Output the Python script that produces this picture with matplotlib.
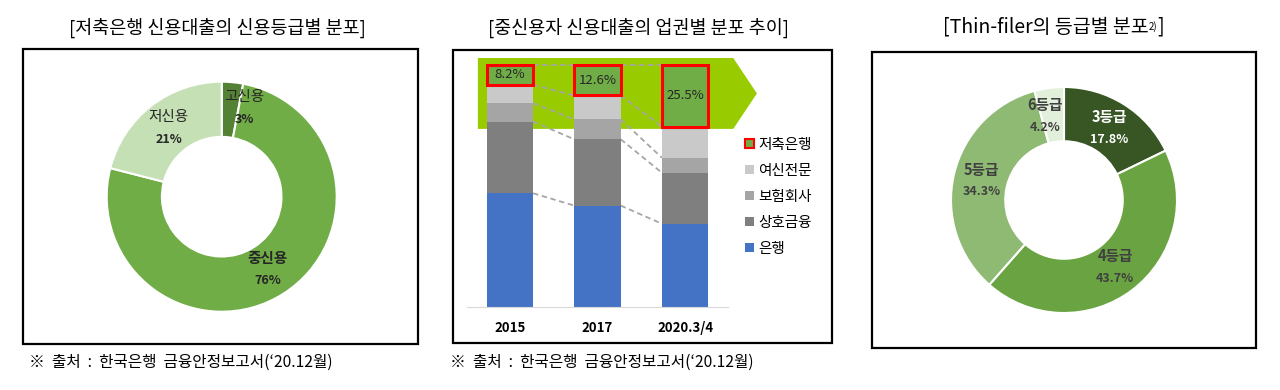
import matplotlib.pyplot as plt
from matplotlib.patches import Rectangle, Polygon, Patch
import numpy as np

W, H = 1280, 390

# 왼쪽: 저축은행 신용대출의 신용등급별 분포
credit_labels = ["고신용", "중신용", "저신용"]
credit_values = [3, 76, 21]
credit_colors = ["#548235", "#70ad47", "#c5e0b4"]

# 가운데: 중신용자 신용대출의 업권별 분포 추이 (%)
years = ["2015", "2017", "2020.3/4"]
bank = [47.0, 41.9, 34.4]
mutual = [29.6, 27.4, 21.1]
insurance = [7.6, 8.3, 6.2]
card = [7.6, 9.8, 12.8]
savings = [8.2, 12.6, 25.5]
sector_names = ["은행", "상호금융", "보험회사", "여신전문", "저축은행"]
sector_colors = ["#4472c4", "#7f7f7f", "#a5a5a5", "#c9c9c9", "#70ad47"]

# 오른쪽: Thin-filer의 등급별 분포
grade_labels = ["3등급", "4등급", "5등급", "6등급"]
grade_values = [17.8, 43.7, 34.3, 4.2]
grade_colors = ["#375623", "#6aa341", "#8fba74", "#e2efda"]
grade_text_colors = ["white", "#404040", "#404040", "#404040"]

SOURCE = "※  출처  :  한국은행  금융안정보고서(‘20.12월)"

plt.rcParams["font.family"] = ["Noto Sans CJK KR", "DejaVu Sans"]


def px_rect(x0, y0, x1, y1):
    # 픽셀 좌표(왼쪽 위 기준)를 figure 비율 좌표로 바꾼다.
    return [x0 / W, 1 - y1 / H, (x1 - x0) / W, (y1 - y0) / H]


def draw_frame(fig, x0, y0, x1, y1):
    fig.add_artist(Rectangle((x0 / W, 1 - y1 / H), (x1 - x0) / W, (y1 - y0) / H,
                             transform=fig.transFigure, fill=False,
                             edgecolor="black", linewidth=1.6))


def draw_donut(fig, cx, cy, r, values, labels, colors, text_colors, name_bold, nudges):
    ax = fig.add_axes(px_rect(cx - r, cy - r, cx + r, cy + r))
    wedges, _ = ax.pie(values, radius=1, startangle=90, counterclock=False,
                       colors=colors,
                       wedgeprops={"width": 0.48, "edgecolor": "white", "linewidth": 1.5})
    ax.set_xlim(-1, 1)
    ax.set_ylim(-1, 1)
    ax.axis("off")
    for i, w in enumerate(wedges):
        mid = np.deg2rad((w.theta1 + w.theta2) / 2)
        dx, dy = nudges.get(labels[i], (0, 0))
        x = 0.75 * np.cos(mid) + dx
        y = 0.75 * np.sin(mid) + dy
        value = values[i]
        pct = f"{value:.0f}%" if float(value).is_integer() else f"{value:.1f}%"
        ax.annotate(labels[i], (x, y), xytext=(0, 8), textcoords="offset points",
                    ha="center", va="center", fontsize=10.5, color=text_colors[i],
                    fontweight="bold" if name_bold[i] else "normal")
        ax.annotate(pct, (x, y), xytext=(0, -8), textcoords="offset points",
                    ha="center", va="center", fontsize=9, color=text_colors[i],
                    fontweight="bold")
    return ax


fig = plt.figure(figsize=(12.8, 3.9), dpi=100)

# ---- 왼쪽 도넛 ----
fig.text(217 / W, 1 - 28 / H, "[저축은행 신용대출의 신용등급별 분포]",
         ha="center", va="center", fontsize=13.3)
draw_frame(fig, 23, 49, 418, 344)
draw_donut(fig, 221.7, 196.7, 115, credit_values, credit_labels, credit_colors,
           ["#262626"] * 3, [False, True, False], {"고신용": (0.13, 0.02)})
fig.text(29 / W, 1 - 362 / H, SOURCE, ha="left", va="center", fontsize=11.3)

# ---- 가운데 누적 막대 ----
fig.text(638 / W, 1 - 28 / H, "[중신용자 신용대출의 업권별 분포 추이]",
         ha="center", va="center", fontsize=13.3)
draw_frame(fig, 453, 50, 832, 343)
fig.text(450 / W, 1 - 362 / H, SOURCE, ha="left", va="center", fontsize=11.3)

ax = fig.add_axes(px_rect(467, 50, 728, 307))
x = np.arange(len(years))
bar_w = 0.53
series = [bank, mutual, insurance, card, savings]
bottoms = np.zeros(len(years))
levels = [bottoms.copy()]
for name, vals, color in zip(sector_names, series, sector_colors):
    vals = np.array(vals)
    if name == "저축은행":
        ax.bar(x, vals, bar_w, bottom=bottoms, color=color, edgecolor="#ff0000",
               linewidth=2.2, zorder=3)
        for xi, b, v in zip(x, bottoms, vals):
            ax.text(xi, b + v / 2, f"{v:.1f}%", ha="center", va="center",
                    fontsize=9.5, color="#262626", zorder=4)
    else:
        ax.bar(x, vals, bar_w, bottom=bottoms, color=color, linewidth=0, zorder=2)
    bottoms = bottoms + vals
    levels.append(bottoms.copy())

# 계열선(점선): 각 구간 경계를 이웃 막대끼리 연결
for lv in levels[1:]:
    for i in range(len(years) - 1):
        ax.plot([x[i] + bar_w / 2, x[i + 1] - bar_w / 2], [lv[i], lv[i + 1]],
                color="#a6a6a6", linestyle=(0, (3, 2)), linewidth=1.3, zorder=1)

# 저축은행 비중 확대를 강조하는 연두색 화살표 배경
arrow_top = 102.9
arrow_bottom = 100 - max(savings) - 0.9
arrow_mid = (arrow_top + arrow_bottom) / 2
ax.add_patch(Polygon([(-0.366, arrow_top), (2.55, arrow_top), (2.82, arrow_mid),
                      (2.55, arrow_bottom), (-0.366, arrow_bottom)],
                     closed=True, facecolor="#99cc00", edgecolor="none",
                     zorder=0, clip_on=False))

ax.set_xlim(-0.49, 2.49)
ax.set_ylim(0, 106.2)
ax.set_yticks([])
ax.set_xticks(x)
ax.set_xticklabels(years, fontsize=9.5, fontweight="bold")
ax.tick_params(axis="x", length=0, pad=10)
for side in ("left", "right", "top"):
    ax.spines[side].set_visible(False)
ax.spines["bottom"].set_color("#d9d9d9")
ax.patch.set_visible(False)

handles = [Patch(facecolor=c, edgecolor="#ff0000" if n == "저축은행" else "none",
                 linewidth=1.5 if n == "저축은행" else 0)
           for n, c in zip(sector_names, sector_colors)]
fig.legend(handles[::-1], sector_names[::-1], loc="upper left",
           bbox_to_anchor=(745 / W, 1 - 138 / H), frameon=False, fontsize=10.5,
           handlelength=0.6, handleheight=0.6, handletextpad=0.3,
           labelspacing=0.82, borderpad=0, borderaxespad=0)

# ---- 오른쪽 도넛 ----
t = fig.text(943 / W, 1 - 27 / H, "[Thin-filer의 등급별 분포",
             ha="left", va="center", fontsize=14)
sup = fig.add_artist(plt.Annotation("2)", xy=(1, 0.25), xycoords=t, ha="left",
                                    va="bottom", fontsize=7, annotation_clip=False))
fig.add_artist(plt.Annotation("]", xy=(1, 0), xycoords=(sup, t), ha="left",
                              va="bottom", fontsize=14, annotation_clip=False))
draw_frame(fig, 872, 52, 1256, 348)
draw_donut(fig, 1064, 200, 113, grade_values, grade_labels, grade_colors,
           grade_text_colors, [True] * 4, {"6등급": (-0.07, 0.0)})

plt.savefig("out.png", dpi=100)
plt.close()
